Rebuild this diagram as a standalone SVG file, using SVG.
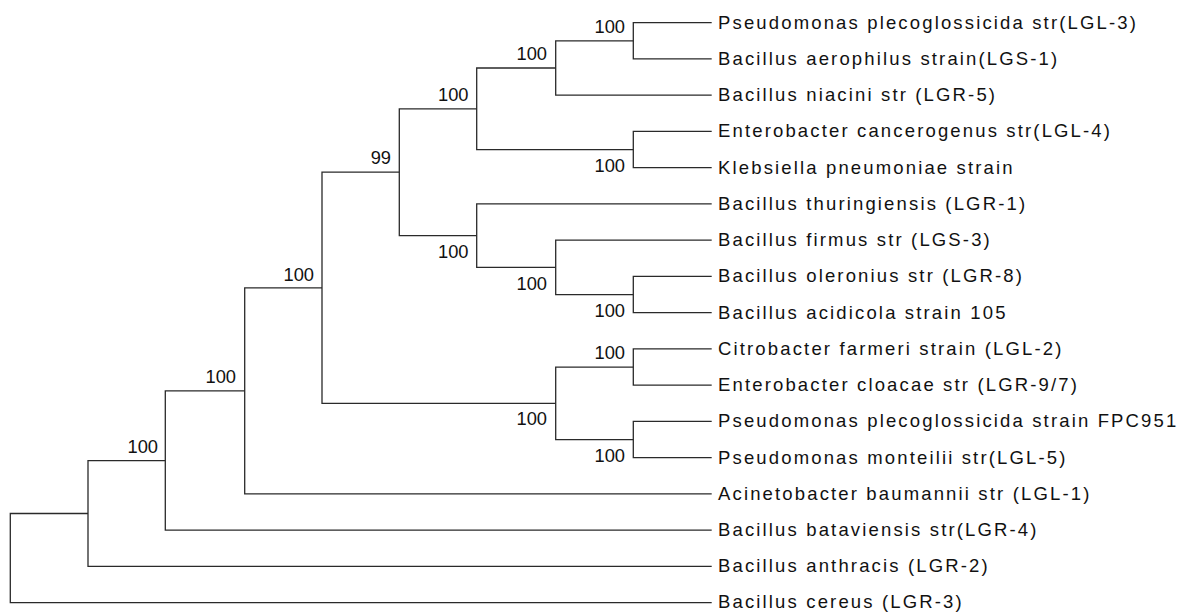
<svg xmlns="http://www.w3.org/2000/svg" width="1183" height="612" viewBox="0 0 1183 612">
<style>
.br{fill:none;stroke:#2a2a2a;stroke-width:1.3}
.lf{font-family:"Liberation Sans",Arial,sans-serif;font-size:18.5px;letter-spacing:2.15px;fill:#111}
.bs{font-family:"Liberation Sans",Arial,sans-serif;font-size:18.3px;fill:#111;text-anchor:end}
</style>
<rect width="1183" height="612" fill="#fff"/>
<g id="connectors">
<path class="br" d="M711.7 22.7H633.3V58.95H711.7"/>
<path class="br" d="M633.3 40.8H555.7V95.2H711.7"/>
<path class="br" d="M711.7 131.45H633.3V167.7H711.7"/>
<path class="br" d="M555.7 68H476.7V149.6H633.3"/>
<path class="br" d="M711.7 276.45H633.3V312.7H711.7"/>
<path class="br" d="M711.7 240.2H555.7V294.6H633.3"/>
<path class="br" d="M711.7 203.95H476.7V267.4H555.7"/>
<path class="br" d="M476.7 108.8H399.3V235.7H476.7"/>
<path class="br" d="M711.7 348.95H633.3V385.2H711.7"/>
<path class="br" d="M711.7 421.45H633.3V457.7H711.7"/>
<path class="br" d="M633.3 367.1H555.7V439.6H633.3"/>
<path class="br" d="M399.3 172.2H322V403.3H555.7"/>
<path class="br" d="M322 287.8H244.7V493.95H711.7"/>
<path class="br" d="M244.7 390.9H165.3V530.2H711.7"/>
<path class="br" d="M165.3 460.6H88V566.45H711.7"/>
<path class="br" d="M88 513.5H10.3V602.7H711.7"/>
</g>
<g id="bootstrap">
<text class="bs" x="625" y="32.5">100</text>
<text class="bs" x="547" y="60">100</text>
<text class="bs" x="468.5" y="100.5">100</text>
<text class="bs" x="625" y="171.6">100</text>
<text class="bs" x="391" y="164">99</text>
<text class="bs" x="468.5" y="257.7">100</text>
<text class="bs" x="547" y="289.6">100</text>
<text class="bs" x="625" y="317">100</text>
<text class="bs" x="625" y="359">100</text>
<text class="bs" x="547" y="425.3">100</text>
<text class="bs" x="625" y="461.6">100</text>
<text class="bs" x="314" y="280.5">100</text>
<text class="bs" x="236" y="383">100</text>
<text class="bs" x="158" y="452.6">100</text>
</g>
<g id="leaf1"><text class="lf" x="718" y="28.7">Pseudomonas plecoglossicida str(LGL-3)</text></g>
<g id="leaf2"><text class="lf" x="718" y="64.95">Bacillus aerophilus strain(LGS-1)</text></g>
<g id="leaf3"><text class="lf" x="718" y="101.2">Bacillus niacini str (LGR-5)</text></g>
<g id="leaf4"><text class="lf" x="718" y="137.45">Enterobacter cancerogenus str(LGL-4)</text></g>
<g id="leaf5"><text class="lf" x="718" y="173.7">Klebsiella pneumoniae strain</text></g>
<g id="leaf6"><text class="lf" x="718" y="209.95">Bacillus thuringiensis (LGR-1)</text></g>
<g id="leaf7"><text class="lf" x="718" y="246.2">Bacillus firmus str (LGS-3)</text></g>
<g id="leaf8"><text class="lf" x="718" y="282.45">Bacillus oleronius str (LGR-8)</text></g>
<g id="leaf9"><text class="lf" x="718" y="318.7">Bacillus acidicola strain 105</text></g>
<g id="leaf10"><text class="lf" x="718" y="354.95">Citrobacter farmeri strain (LGL-2)</text></g>
<g id="leaf11"><text class="lf" x="718" y="391.2">Enterobacter cloacae str (LGR-9/7)</text></g>
<g id="leaf12"><text class="lf" x="718" y="427.45">Pseudomonas plecoglossicida strain FPC951</text></g>
<g id="leaf13"><text class="lf" x="718" y="463.7">Pseudomonas monteilii str(LGL-5)</text></g>
<g id="leaf14"><text class="lf" x="718" y="499.95">Acinetobacter baumannii str (LGL-1)</text></g>
<g id="leaf15"><text class="lf" x="718" y="536.2">Bacillus bataviensis str(LGR-4)</text></g>
<g id="leaf16"><text class="lf" x="718" y="572.45">Bacillus anthracis (LGR-2)</text></g>
<g id="leaf17"><text class="lf" x="718" y="607.7">Bacillus cereus (LGR-3)</text></g>
</svg>
